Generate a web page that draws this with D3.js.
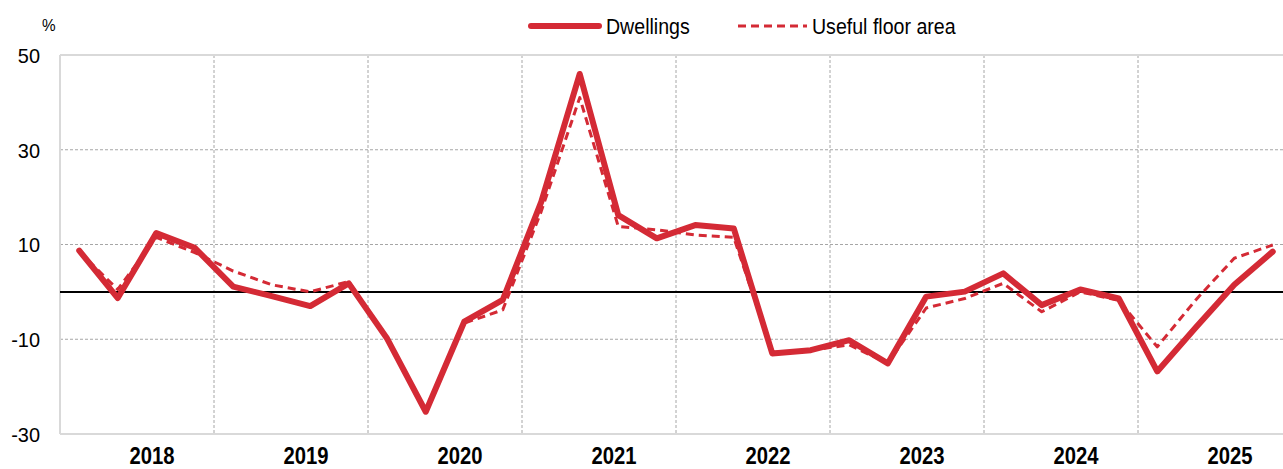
<!DOCTYPE html>
<html><head><meta charset="utf-8">
<script src="https://cdn.jsdelivr.net/npm/d3@7"></script>
<style>body{margin:0;background:#fff}svg{display:block}</style>
</head><body>
<script>
const years = ["2018","2019","2020","2021","2022","2023","2024","2025"];
const quarters = ["Q1","Q2","Q3","Q4"];
const dwellings = [8.7,-1.3,12.4,9.3, 1.1,-0.9,-3.0,1.8, -9.9,-25.3,-6.3,-1.7, 19.0,46.0,16.2,11.3, 14.1,13.4,-13.0,-12.3, -10.2,-15.1,-1.0,0.05, 3.9,-2.8,0.5,-1.4, -16.8,-7.5,1.5,8.5];
const floorArea = [8.5,0.5,11.5,8.3, 4.4,1.5,0.0,2.2, -9.9,-25.3,-6.6,-3.8, 17.0,41.0,13.8,13.1, 12.0,11.5,-12.8,-12.3, -11.2,-15.1,-3.4,-1.4, 1.8,-4.2,0.0,-1.8, -11.6,-1.7,7.1,9.9];
const yTicks = [50,30,10,-10,-30];
const seriesNames = ["Dwellings","Useful floor area"];

(function(){
const W=1283,H=469;
const red="#d42a35";
const font='"Liberation Sans","Arial",sans-serif';
const svg=d3.select("body").append("svg").attr("width",W).attr("height",H);
const mL=60,mT=55,mB=434,mR=60+8*154;

const keys=[];years.forEach(y=>quarters.forEach(q=>keys.push(y+q)));
const xYear=d3.scaleBand().domain(years).range([mL,mR]);
const xQ=d3.scaleBand().domain(keys).range([mL,mR]);
const y=d3.scaleLinear().domain([-30,50]).range([mB,mT]);

svg.append("g").selectAll("line").data([30,10,-10]).join("line")
 .attr("x1",mL).attr("x2",mR).attr("y1",d=>y(d)).attr("y2",d=>y(d))
 .attr("stroke","#a6a6a6").attr("stroke-width",1).attr("stroke-dasharray","3,2");
svg.append("g").selectAll("line").data(years.slice(1)).join("line")
 .attr("x1",d=>xYear(d)).attr("x2",d=>xYear(d)).attr("y1",mT).attr("y2",mB)
 .attr("stroke","#a6a6a6").attr("stroke-width",1).attr("stroke-dasharray","3,2");
svg.append("line").attr("x1",mL).attr("x2",mR).attr("y1",mT).attr("y2",mT).attr("stroke","#d9d9d9").attr("stroke-width",2);
svg.append("line").attr("x1",mL).attr("x2",mR).attr("y1",mB).attr("y2",mB).attr("stroke","#d9d9d9").attr("stroke-width",2);
svg.append("line").attr("x1",mL).attr("x2",mL).attr("y1",mT).attr("y2",mB).attr("stroke","#d9d9d9").attr("stroke-width",2);
svg.append("line").attr("x1",mL).attr("x2",mR).attr("y1",y(0)).attr("y2",y(0)).attr("stroke","#000").attr("stroke-width",2);

const yAxis=d3.axisLeft(y).tickValues(yTicks).tickSize(0).tickPadding(0).tickFormat(d=>String(d));
const ya=svg.append("g").attr("transform",`translate(${mL-20},0)`).call(yAxis);
ya.select(".domain").remove();
ya.selectAll("text").attr("font-family",font).attr("font-size",21).attr("fill","#000").attr("dy","0.35em")
  .attr("transform","scale(0.95,1)");
svg.append("text").attr("x",42).attr("y",31).text("%").attr("font-family",font).attr("font-size",17)
  .attr("transform","translate(42,0) scale(0.9,1) translate(-42,0)");

const xAxis=d3.axisBottom(xYear).tickSize(0).tickPadding(0);
const xa=svg.append("g").attr("transform",`translate(0,${mB})`).call(xAxis);
xa.select(".domain").remove();
xa.selectAll("text").attr("font-family",font).attr("font-size",23).attr("font-weight","bold").attr("fill","#000").attr("dy","1.3em")
  .attr("transform","translate(15,0) scale(0.88,1)");

const line=d3.line().x((d,i)=>xQ(keys[i])+xQ.bandwidth()/2).y(d=>y(d));
svg.append("path").datum(floorArea).attr("d",line).attr("fill","none").attr("stroke",red).attr("stroke-width",3).attr("stroke-dasharray","8,5").attr("stroke-linejoin","round");
svg.append("path").datum(dwellings).attr("d",line).attr("fill","none").attr("stroke",red).attr("stroke-width",6).attr("stroke-linejoin","round").attr("stroke-linecap","round");

function sx(sel,x,s){sel.attr("transform",`translate(${x},0) scale(${s},1) translate(${-x},0)`);}
const lg=svg.append("g");
lg.append("line").attr("x1",531).attr("x2",599).attr("y1",26).attr("y2",26).attr("stroke",red).attr("stroke-width",6).attr("stroke-linecap","round");
sx(lg.append("text").attr("x",606).attr("y",34).text(seriesNames[0]).attr("font-family",font).attr("font-size",22),606,0.89);
lg.append("line").attr("x1",738).attr("x2",807).attr("y1",26).attr("y2",26).attr("stroke",red).attr("stroke-width",3).attr("stroke-dasharray","8,5");
sx(lg.append("text").attr("x",812).attr("y",34).text(seriesNames[1]).attr("font-family",font).attr("font-size",22),812,0.89);
})();
</script>
</body></html>
